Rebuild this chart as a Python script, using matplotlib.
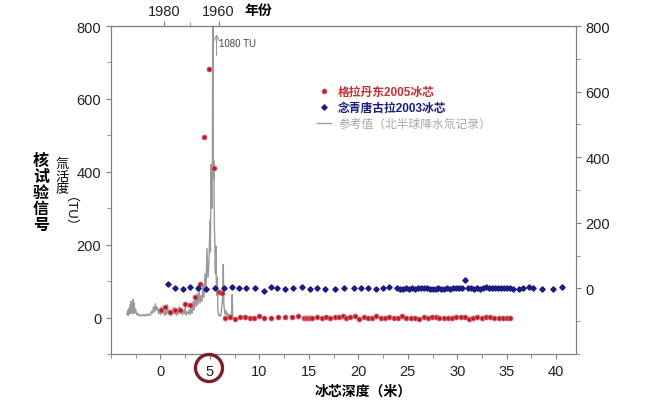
import matplotlib
matplotlib.use("Agg")
import matplotlib.pyplot as plt
from matplotlib.patches import Ellipse
from matplotlib.ticker import MultipleLocator, FixedLocator

plt.rcParams['font.family'] = ['Liberation Sans', 'Noto Sans CJK SC']

# reference record (northern hemisphere precipitation tritium), left axis
ref_depth = [-3.4, -3.3, -3.25, -3.2, -3.1, -3.05, -3.0, -2.95, -2.9, -2.85, -2.8, -2.75, -2.7, -2.65,
             -2.6, -2.5, -2.4, -2.3, -2.2, -2.1, -2.0, -1.9, -1.8, -1.7, -1.6, -1.5, -1.4, -1.3, -1.2,
             -1.1, -1.0, -0.9, -0.8, -0.7, -0.6, -0.5, -0.4, -0.3, -0.2, -0.1, 0.0, 0.1, 0.2, 0.3, 0.4,
             0.5, 0.6, 0.7, 0.8, 0.9, 1.0, 1.1, 1.2, 1.3, 1.4, 1.5, 1.6, 1.7, 1.8, 1.9, 2.0, 2.1, 2.2,
             2.3, 2.4, 2.5, 2.6, 2.7, 2.8, 2.9, 3.0, 3.1, 3.2, 3.3, 3.4, 3.5, 3.6, 3.7, 3.8, 3.9, 4.0,
             4.1, 4.2, 4.3, 4.4, 4.5, 4.6, 4.7, 4.8, 4.9, 5.0, 5.05, 5.1, 5.2, 5.25, 5.3, 5.35, 5.4,
             5.45, 5.5, 5.55, 5.6, 5.65, 5.7, 5.75, 5.8, 5.9, 6.0, 6.1, 6.2, 6.3, 6.35, 6.4, 6.5, 6.6,
             6.7, 6.8, 6.9, 7.0, 7.1, 7.2, 7.25, 7.3]
ref_tu = [8, 20, 6, 25, 10, 35, 12, 45, 15, 30, 10, 50, 18, 40,
          12, 22, 8, 12, 5, 8, 4, 7, 5, 9, 4, 8, 5, 10, 6,
          9, 7, 18, 12, 30, 15, 38, 20, 28, 10, 22, 8, 30, 12, 25, 6,
          18, 8, 35, 10, 20, 5, 15, 8, 28, 10, 22, 6, 18, 9, 30, 12, 25, 8,
          20, 10, 28, 6, 15, 10, 22, 8, 25, 12, 45, 20, 55, 30, 65, 35, 75, 40,
          60, 45, 90, 55, 120, 70, 190, 110, 150, 265, 180, 420, 300, 450, 1080, 380, 430,
          250, 200, 120, 196, 90, 60, 110, 20, 5, 8, 4, 30, 60, 146, 40, 10, 20,
          5, 12, 4, 8, 3, 10, 63, 5]

# Geladaindong 2005 core, left axis
gl_depth = [0.1, 0.5, 1.0, 1.5, 2.0, 2.5, 3.0, 3.5, 3.95, 4.45, 4.95, 5.45, 5.95, 6.2,
            6.5, 7.0, 7.5, 8.0, 8.5, 9.0, 9.5, 10.0, 10.5, 11.2, 11.9, 12.6, 13.3, 13.9,
            14.5, 14.7, 14.9, 15.1, 15.3, 15.8, 16.3, 16.7, 17.1, 17.6, 18.0, 18.4, 18.8,
            19.2, 19.7, 20.1, 20.6, 21.0, 21.4, 21.8, 22.3, 22.7, 23.1, 23.6, 24.0, 24.4,
            24.8, 25.3, 25.7, 26.1, 26.6, 27.0, 27.4, 27.8, 28.2, 28.7, 29.1, 29.5, 29.9,
            30.4, 30.8, 31.2, 31.6, 32.0, 32.5, 32.9, 33.3, 33.7, 34.2, 34.6, 35.0, 35.3]
gl_tu = [22, 28, 15, 21, 21, 38, 35, 56, 93, 496, 681, 410, 70, 68,
         -1, 2, -3, 2, 2, -1, -1, 5, -1, 0, 1, 1, 2, 4,
         -2, -2, -2, -2, -2, 1, -1, 2, 0, 2, 1, 4, 0,
         1, 3, -3, 2, -2, 0, 4, 0, -2, 1, -2, 0, 3,
         -1, 0, -1, -3, 1, -1, 2, 1, -1, 0, 0, -1, 2,
         1, 2, -5, 0, 1, 0, 1, 2, 0, -1, 0, -1, -1]

# Nyainqentanglha 2003 core, right axis
nq_depth = [0.8, 1.5, 2.3, 3.0, 3.8, 4.6, 5.5, 6.4, 7.2, 7.9, 8.6, 9.6, 10.5, 11.2, 11.8,
            12.6, 13.4, 14.3, 15.1, 15.8, 16.6, 17.6, 18.6, 19.6, 20.3, 21.0, 21.8, 22.5,
            23.1, 23.9, 24.2, 24.5, 24.8, 25.1, 25.4, 25.7, 26.0, 26.3, 26.6, 26.9, 27.2,
            27.5, 27.8, 28.1, 28.4, 28.7, 29.0, 29.3, 29.6, 29.9, 30.2, 30.5, 30.8, 31.1,
            31.4, 31.7, 32.0, 32.3, 32.6, 32.9, 33.2, 33.5, 33.8, 34.1, 34.4, 34.7, 35.0,
            35.3, 35.6, 36.2, 36.6, 37.2, 37.7, 38.6, 39.7, 40.6]
nq_tu = [13, 0, -1, 4, 1, -1, 1, 0, 4, 2, 2, 2, -7, 3, 0,
         -1, 0, 3, -1, 1, -1, -1, 0, 0, 0, 2, -3, 0,
         3, 0, -1, -2, 0, -1, 1, -1, 0, 2, 1, 0, -1,
         -2, -1, 0, -1, -2, 0, -1, 1, 2, 0, 1, 27, 0,
         2, -1, 1, -2, 0, 3, 1, 2, 0, 1, 2, 0, 1,
         0, -1, -2, 0, 3, 0, -3, -2, 3]

year_pos = [0.4, 5.88]
year_labels = ['1980', '1960']

fig = plt.figure(figsize=(6.58, 4.02), dpi=100)
ax = fig.add_axes([111/658, 47/402, 465/658, 328/402])
ax2 = ax.twinx()

spine_c = '#808080'
for a in (ax, ax2):
    for s in a.spines.values():
        s.set_color(spine_c)
    a.tick_params(colors=spine_c, labelcolor='#222222', labelsize=10.5, direction='out')
    a.tick_params(which='minor', colors=spine_c, direction='out', length=3)

ln, = ax.plot(ref_depth, ref_tu, color='#9a9a9a', lw=1.0, zorder=2)
rd, = ax.plot(gl_depth, gl_tu, 'o', ms=3.7, mfc='#b3202e', mec='#e57f86', mew=0.5, zorder=3)
bd, = ax2.plot(nq_depth, nq_tu, 'D', ms=2.7, mfc='#1c1c80', mec='#1c1c80', zorder=3)

ax.set_xlim(-5, 42)
ax.set_ylim(-100, 800)
ax2.set_ylim(-200, 800)
ax.set_xticks([0, 5, 10, 15, 20, 25, 30, 35, 40])
ax.xaxis.set_minor_locator(MultipleLocator(2.5))
ax.yaxis.set_major_locator(FixedLocator([0, 200, 400, 600, 800]))
ax.yaxis.set_minor_locator(MultipleLocator(100))
ax2.yaxis.set_major_locator(FixedLocator([0, 200, 400, 600, 800]))
ax2.yaxis.set_minor_locator(MultipleLocator(100))

top = ax.secondary_xaxis('top')
top.set_xticks(year_pos, labels=year_labels)
top.xaxis.set_minor_locator(FixedLocator([3.0]))
top.spines['top'].set_color(spine_c)
top.tick_params(colors=spine_c, labelcolor='#222222', labelsize=10.5, direction='out', pad=2)
top.tick_params(which='minor', colors=spine_c, direction='out', length=3)
fig.text(258/658, 1 - 11/402, '年份', fontsize=10, fontweight='bold', ha='center', va='center')

# 1080 TU arrow
ax.annotate('', xy=(5.67, 785), xytext=(5.67, 712),
            arrowprops=dict(arrowstyle='->', color='#999999', lw=0.8))
ax.text(5.95, 752, '1080 TU', fontsize=7, color='#444444', va='center')

leg = ax.legend([rd, bd, ln], ['格拉丹东2005冰芯', '念青唐古拉2003冰芯', '参考值（北半球降水氚记录）'],
                loc='upper left', bbox_to_anchor=(0.42, 0.85), frameon=False,
                fontsize=8.5, handlelength=1.2, handletextpad=0.6, labelspacing=0.35)
leg_colors = ['#c62f35', '#1c1c80', '#a8a8a8']
for t, c in zip(leg.get_texts(), leg_colors):
    t.set_color(c)
    t.set_fontweight('bold')
leg.get_texts()[2].set_fontweight('normal')

# y labels, one character per line
for ch, py in zip('核试验信号', [161, 177, 193, 209, 225]):
    fig.text(41/658, 1 - py/402, ch, fontsize=11.5, fontweight='bold', ha='center', va='center')
for ch, py in zip('氚活度', [165, 177.5, 190]):
    fig.text(62/658, 1 - py/402, ch, fontsize=9.5, ha='center', va='center')
fig.text(62/658, 1 - 219/402, '（TU）', fontsize=9.5, ha='center', va='center', rotation=-90)

fig.text(363/658, 1 - 392/402, '冰芯深度（米）', fontsize=10, fontweight='bold', ha='center', va='center')

fig.add_artist(Ellipse((209/658, 1 - 369/402), 27/658, 27/402, fill=False,
                       ec='#7a1f2b', lw=2.4, transform=fig.transFigure))

fig.savefig('out.png', dpi=100)
